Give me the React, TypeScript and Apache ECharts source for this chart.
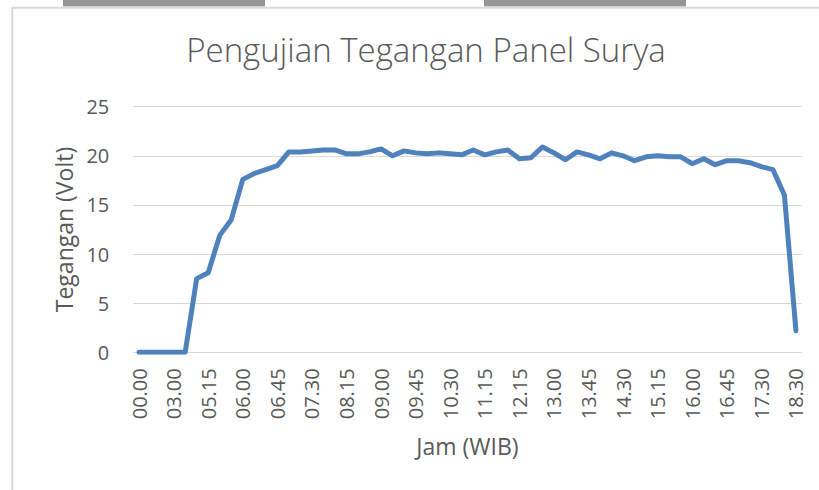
import React, { useEffect, useRef } from "react";
import * as echarts from "echarts";

const categories: string[] = [
  "00.00", "01.00", "02.00", "03.00", "04.00", "05.00", "05.15", "05.30", "05.45", "06.00",
  "06.15", "06.30", "06.45", "07.00", "07.15", "07.30", "07.45", "08.00", "08.15", "08.30",
  "08.45", "09.00", "09.15", "09.30", "09.45", "10.00", "10.15", "10.30", "10.45", "11.00",
  "11.15", "11.30", "11.45", "12.15", "12.30", "12.45", "13.00", "13.15", "13.30", "13.45",
  "14.00", "14.15", "14.30", "14.45", "15.00", "15.15", "15.30", "15.45", "16.00", "16.15",
  "16.30", "16.45", "17.00", "17.15", "17.30", "17.45", "18.00", "18.30",
];

const tegangan: number[] = [
  0, 0, 0, 0, 0, 7.5, 8.1, 11.9, 13.5, 17.6,
  18.2, 18.6, 19.0, 20.4, 20.4, 20.5, 20.6, 20.6, 20.2, 20.2,
  20.4, 20.7, 20.0, 20.5, 20.3, 20.2, 20.3, 20.2, 20.1, 20.6,
  20.1, 20.4, 20.6, 19.7, 19.8, 20.9, 20.3, 19.6, 20.4, 20.1,
  19.7, 20.3, 20.0, 19.5, 19.9, 20.0, 19.9, 19.9, 19.2, 19.7,
  19.1, 19.5, 19.5, 19.3, 18.9, 18.6, 16.0, 2.2,
];

const yMin = 0;
const yMax = 25;
const yStep = 5;

const titleText = "Pengujian Tegangan Panel Surya";
const xName = "Jam (WIB)";
const yName = "Tegangan (Volt)";

export default function App() {
  const ref = useRef<HTMLDivElement>(null);
  useEffect(() => {
    if (!ref.current) return;
    const chart = echarts.init(ref.current, undefined, { renderer: "svg" });
    const font = "'Open Sans', 'Noto Sans', sans-serif";
    chart.setOption({
      animation: false,
      backgroundColor: "#ffffff",
      title: {
        text: titleText,
        left: 421,
        top: 28,
        textAlign: "center",
        textStyle: { fontFamily: font, fontSize: 33, fontWeight: 300, color: "#595959" },
      },
      graphic: [
        { type: "rect", shape: { x: 63, y: 0, width: 202, height: 6.5 }, style: { fill: "#969696" }, silent: true },
        { type: "rect", shape: { x: 484, y: 0, width: 202, height: 6.5 }, style: { fill: "#969696" }, silent: true },
        { type: "line", shape: { x1: 11.5, y1: 7.7, x2: 819, y2: 7.7 }, style: { stroke: "#D9D9D9", lineWidth: 2 }, silent: true },
        { type: "line", shape: { x1: 12.3, y1: 7.7, x2: 12.3, y2: 490 }, style: { stroke: "#D9D9D9", lineWidth: 2 }, silent: true },
      ],
      grid: { left: 133.3, right: 17.3, top: 106.7, bottom: 137.7, containLabel: false },
      xAxis: {
        type: "category",
        data: categories,
        boundaryGap: true,
        name: xName,
        nameLocation: "middle",
        nameGap: 82,
        nameTextStyle: { fontFamily: font, fontSize: 23, color: "#595959", verticalAlign: "top" },
        axisLine: { show: true, lineStyle: { color: "#D9D9D9", width: 1 } },
        axisTick: { show: false },
        axisLabel: {
          interval: 2,
          rotate: 90,
          margin: 16,
          fontFamily: font,
          fontSize: 20,
          color: "#595959",
        },
        splitLine: { show: false },
      },
      yAxis: {
        type: "value",
        min: yMin,
        max: yMax,
        interval: yStep,
        name: yName,
        nameLocation: "middle",
        nameRotate: 90,
        nameGap: 58,
        nameTextStyle: { fontFamily: font, fontSize: 23, color: "#595959" },
        axisLine: { show: false },
        axisTick: { show: false },
        axisLabel: { margin: 24, fontFamily: font, fontSize: 20, color: "#595959" },
        splitLine: { show: true, lineStyle: { color: "#D9D9D9", width: 1 } },
      },
      series: [
        {
          type: "line",
          data: tegangan,
          symbol: "none",
          smooth: false,
          lineStyle: { color: "#4F81BD", width: 5, cap: "round", join: "round" },
          itemStyle: { color: "#4F81BD" },
        },
      ],
    });
    return () => chart.dispose();
  }, []);
  return (
    <div
      ref={ref}
      style={{ position: "absolute", left: 0, top: 0, width: 819, height: 490 }}
    />
  );
}
